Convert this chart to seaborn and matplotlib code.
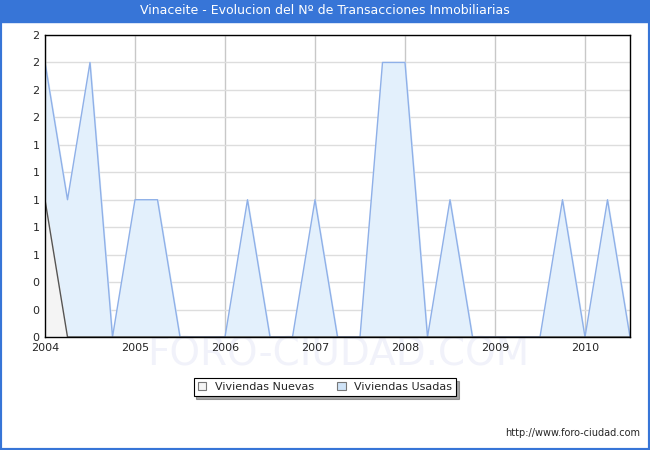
import numpy as np
import pandas as pd
import matplotlib
matplotlib.use('Agg')
import matplotlib.pyplot as plt
import seaborn as sns
from matplotlib.patches import Patch, Rectangle

# quarterly data, 2004 Q1 .. 2010 Q3
years = [2004, 2005, 2006, 2007, 2008, 2009, 2010]
usadas = [2, 1, 2, 0,
          1, 1, 0, 0,
          0, 1, 0, 0,
          1, 0, 0, 2,
          2, 0, 1, 0,
          0, 0, 0, 1,
          0, 1, 0]
nuevas = [1, 0, 0, 0,
          0, 0, 0, 0,
          0, 0, 0, 0,
          0, 0, 0, 0,
          0, 0, 0, 0,
          0, 0, 0, 0,
          0, 0, 0]
y_ticks = [0, 0.2, 0.4, 0.6, 0.8, 1.0, 1.2, 1.4, 1.6, 1.8, 2.0, 2.2]

fecha = [2004 + i * 0.25 for i in range(len(usadas))]
df = pd.DataFrame({'fecha': fecha, 'usadas': usadas, 'nuevas': nuevas})

sns.set_style('white')
plt.rcParams['font.family'] = ['DejaVu Sans']

fig = plt.figure(figsize=(6.5, 4.5), dpi=100)

# watermark, behind everything
fig.text(0.52, 1 - 355/450, 'FORO-CIUDAD.COM', color='#f1f2fa', ha='center', va='center',
         fontsize=28, zorder=-5)

ax = fig.add_axes([45/650, 113/450, 585/650, 302/450])
ax.patch.set_alpha(0)

#fills first, lines on top
ax.fill_between(df['fecha'], df['usadas'], color='#e3f0fc', zorder=2)
ax.fill_between(df['fecha'], df['nuevas'], color='#f4f4f4', zorder=3)
sns.lineplot(data=df, x='fecha', y='usadas', color='#8fb0e8', lw=1, ax=ax, zorder=4)
sns.lineplot(data=df, x='fecha', y='nuevas', color='#555555', lw=1, ax=ax, zorder=5)

ax.set_xlim(2004, 2010.5)
ax.set_ylim(0, 2.2)
ax.set_xticks(years)
ax.set_xticklabels([str(y) for y in years], fontsize=8)
ax.set_yticks(y_ticks)
ax.set_yticklabels([str(int(np.floor(v + 0.5))) if v != 0.4 else '0' for v in y_ticks], fontsize=8)
ax.set_xlabel('')
ax.set_ylabel('')
ax.tick_params(length=0, pad=4)
ax.grid(True, axis='y', color='#dddddd', lw=1, zorder=1)
ax.grid(True, axis='x', color='#c8c8c8', lw=1, zorder=1)
ax.set_axisbelow(True)
for s in ax.spines.values():
    s.set_color('black')
    s.set_linewidth(1)
    s.set_zorder(6)

# title bar
fig.patches.append(Rectangle((0, 1 - 22/450), 1, 22/450, transform=fig.transFigure,
                             color='#3775d7', zorder=0))
fig.patches.append(Rectangle((0, 0), 1, 1, transform=fig.transFigure, fill=False,
                             edgecolor='#3775d7', lw=3, zorder=0))
fig.text(0.5, 1 - 11/450, 'Vinaceite - Evolucion del Nº de Transacciones Inmobiliarias',
         color='white', ha='center', va='center', fontsize=9)

handles = [Patch(facecolor='#f4f4f4', edgecolor='#777777', lw=0.8, label='Viviendas Nuevas'),
           Patch(facecolor='#cfe3f7', edgecolor='#777777', lw=0.8, label='Viviendas Usadas')]
leg = fig.legend(handles=handles, loc='center', bbox_to_anchor=(325/650, 1 - 387/450),
                 ncol=2, fontsize=8, frameon=True, fancybox=False, shadow=True,
                 handlelength=0.8, handleheight=0.8, columnspacing=2.0,
                 borderpad=0.35, handletextpad=0.8)
leg.get_frame().set_edgecolor('black')
leg.get_frame().set_linewidth(0.8)

fig.text(640/650, 1 - 433/450, 'http://www.foro-ciudad.com', ha='right', va='center', fontsize=7)

fig.savefig('out.png', dpi=100)
